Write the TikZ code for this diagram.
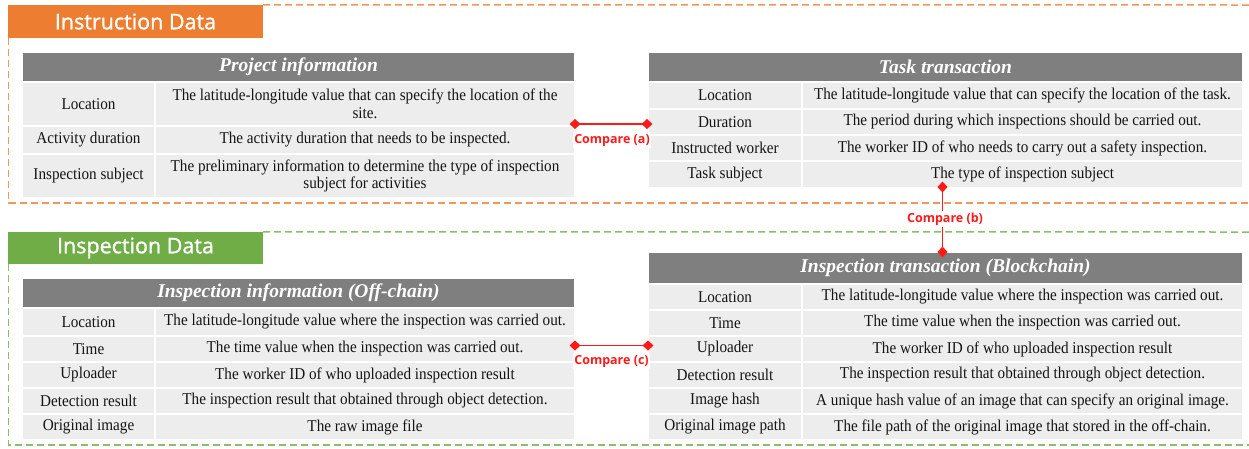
\documentclass[tikz,border=0pt]{standalone}
\usepackage{fontspec}
\setmainfont{Liberation Serif}
\newfontfamily\cellfont{Liberation Serif}[FakeStretch=0.92]
\newfontfamily\grpfont{Open Sans}[FakeBold=1.2]
\newfontfamily\cmpfont{Open Sans}
\usetikzlibrary{arrows.meta}
\definecolor{orgc}{HTML}{ED7D31}
\definecolor{grnc}{HTML}{70AD47}
\definecolor{hdrc}{HTML}{7F7F7F}
\definecolor{cellc}{HTML}{EDEDED}
\definecolor{cmpc}{HTML}{FF1A1A}
\definecolor{txtc}{HTML}{141414}
\newcommand\trow[8]{%
  \node[cell, minimum width={#3-#2}, minimum height={#6-#5}] (#1k) at ({(#2+#3)/2},{(#5+#6)/2}) {#7};
  \node[cell, minimum width={#4-#3}, minimum height={#6-#5}] (#1v) at ({(#3+#4)/2},{(#5+#6)/2}) {#8};}
\tikzset{
  cell/.style={fill=cellc, draw=white, line width=2pt, inner sep=0pt, align=center, text=txtc,
    font=\cellfont\fontsize{16.5}{17.5}\selectfont},
  hdr/.style={fill=hdrc, draw=white, line width=2pt, inner sep=0pt, text=white,
    font=\fontsize{19.5}{22}\selectfont\bfseries\itshape},
  grp/.style={inner sep=0pt, text=white, font=\grpfont\fontsize{21.5}{24}\selectfont},
  frameline/.style={line width=1.5pt, dash pattern=on 7pt off 4pt},
  cmp/.style={draw=cmpc, line width=1.5pt, {Diamond[length=11pt,width=10pt]}-{Diamond[length=11pt,width=10pt]},
    shorten <=-5.5pt, shorten >=-5.5pt},
  cmplbl/.style={fill=white, text=cmpc, inner sep=1.5pt, font=\cmpfont\bfseries\fontsize{12.5}{14}\selectfont}
}
\begin{document}
\begin{tikzpicture}[x=1pt, y=-1pt]
\useasboundingbox (0,0) rectangle (1249,448);
% group frames
\node[grp, fill=orgc, minimum width=255, minimum height=33] (instr) at (135.5,21.5) {Instruction Data};
\draw[frameline, orgc!80] (instr.north east) -- (1249,5);
\draw[frameline, orgc!80] (8.5,38) -- (8.5,203) -- (1249,203);
\node[grp, fill=grnc, minimum width=255, minimum height=32] (insp) at (135.5,248) {Inspection Data};
\draw[frameline, grnc!80] (insp.north east) -- (1249,232);
\draw[frameline, grnc!80] (8.5,264) -- (8.5,445) -- (1249,445);

% Project information
\node[hdr, minimum width=553, minimum height=30] (pih) at (298.5,67) {Project information};
\trow{pia}{22}{155}{575}{82}{126}{Location}{The latitude-longitude value that can specify the location of the\\site.}
\trow{pib}{22}{155}{575}{126}{154}{Activity duration}{The activity duration that needs to be inspected.}
\trow{pic}{22}{155}{575}{154}{198}{Inspection subject}{The preliminary information to determine the type of inspection\\subject for activities}

% Task transaction
\node[hdr, minimum width=595, minimum height=30] (tth) at (945.5,67) {Task transaction};
\trow{tta}{648}{802}{1243}{82}{109}{Location}{The latitude-longitude value that can specify the location of the task.}
\trow{ttb}{648}{802}{1243}{109}{135}{Duration}{The period during which inspections should be carried out.}
\trow{ttc}{648}{802}{1243}{135}{161}{Instructed worker}{The worker ID of who needs to carry out a safety inspection.}
\trow{ttd}{648}{802}{1243}{161}{188}{Task subject}{The type of inspection subject}

% Inspection information (Off-chain)
\node[hdr, minimum width=553, minimum height=30] (iih) at (298.5,293) {Inspection information (Off-chain)};
\trow{iia}{22}{155}{575}{308}{336}{Location}{The latitude-longitude value where the inspection was carried out.}
\trow{iib}{22}{155}{575}{336}{362}{Time}{The time value when the inspection was carried out.}
\trow{iic}{22}{155}{575}{362}{388}{Uploader}{The worker ID of who uploaded inspection result}
\trow{iid}{22}{155}{575}{388}{414}{Detection result}{The inspection result that obtained through object detection.}
\trow{iie}{22}{155}{575}{414}{440}{Original image}{The raw image file}

% Inspection transaction (Blockchain)
\node[hdr, minimum width=595, minimum height=32] (ith) at (945.5,268) {Inspection transaction (Blockchain)};
\trow{ita}{648}{802}{1243}{284}{310}{Location}{The latitude-longitude value where the inspection was carried out.}
\trow{itb}{648}{802}{1243}{310}{336}{Time}{The time value when the inspection was carried out.}
\trow{itc}{648}{802}{1243}{336}{362}{Uploader}{The worker ID of who uploaded inspection result}
\trow{itd}{648}{802}{1243}{362}{388}{Detection result}{The inspection result that obtained through object detection.}
\trow{ite}{648}{802}{1243}{388}{414}{Image hash}{A unique hash value of an image that can specify an original image.}
\trow{itf}{648}{802}{1243}{414}{440}{Original image path}{The file path of the original image that stored in the off-chain.}

% comparisons
\coordinate (ca1) at (575,124);
\coordinate (ca2) at (647,124);
\coordinate (cb1) at (942.5,187);
\coordinate (cb2) at (942.5,252);
\coordinate (cc1) at (575,345.5);
\coordinate (cc2) at (648,345.5);
\draw[cmp] (ca1) -- (ca2);
\draw[cmp] (cb1) -- (cb2);
\draw[cmp] (cc1) -- (cc2);
\node[cmplbl] (la) at (612,140) {Compare (a)};
\node[cmplbl] (lb) at (945,219) {Compare (b)};
\node[cmplbl] (lc) at (611.5,361.5) {Compare (c)};
\end{tikzpicture}
\end{document}
